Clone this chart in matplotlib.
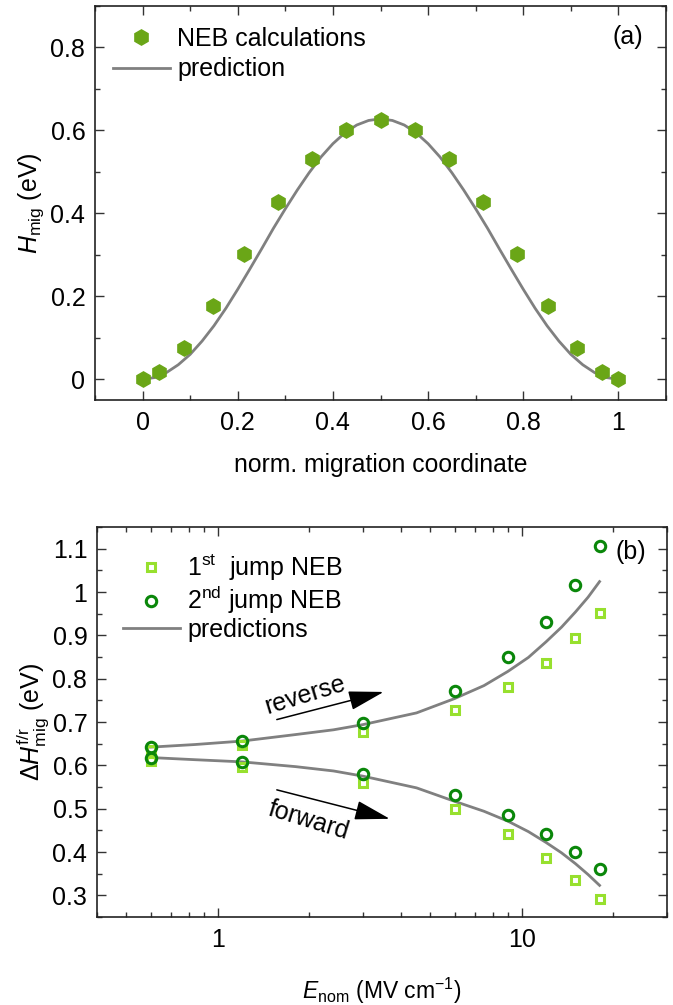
import matplotlib
matplotlib.use("Agg")
import matplotlib.pyplot as plt
from matplotlib.ticker import MultipleLocator, FixedLocator, LogLocator, NullFormatter
from matplotlib.patches import FancyArrowPatch

plt.rcParams['font.family'] = ['Liberation Sans', 'DejaVu Sans']
plt.rcParams['mathtext.fontset'] = 'custom'
plt.rcParams['mathtext.rm'] = 'Liberation Sans'
plt.rcParams['mathtext.it'] = 'Liberation Sans:italic'
plt.rcParams['mathtext.bf'] = 'Liberation Sans:bold'

# ---------------- data (a) ----------------
coord_neb = [0, 0.035, 0.086, 0.147, 0.213, 0.284, 0.355, 0.427, 0.5,
             0.573, 0.645, 0.716, 0.787, 0.853, 0.914, 0.965, 1.0]
h_neb = [0, 0.018, 0.075, 0.177, 0.301, 0.428, 0.532, 0.602, 0.626,
         0.602, 0.532, 0.428, 0.301, 0.177, 0.075, 0.018, 0]
coord_pred = [0, 0.025, 0.05, 0.075, 0.1, 0.125, 0.15, 0.175, 0.2, 0.225, 0.25,
              0.275, 0.3, 0.325, 0.35, 0.375, 0.4, 0.425, 0.45, 0.475, 0.5,
              0.525, 0.55, 0.575, 0.6, 0.625, 0.65, 0.675, 0.7, 0.725, 0.75,
              0.775, 0.8, 0.825, 0.85, 0.875, 0.9, 0.925, 0.95, 0.975, 1.0]
h_pred = [0, 0.004, 0.016, 0.035, 0.060, 0.092, 0.129, 0.171, 0.217, 0.265, 0.314,
          0.364, 0.411, 0.456, 0.498, 0.536, 0.568, 0.594, 0.613, 0.624, 0.628,
          0.624, 0.613, 0.594, 0.568, 0.536, 0.498, 0.456, 0.411, 0.364, 0.314,
          0.265, 0.217, 0.171, 0.129, 0.092, 0.060, 0.035, 0.016, 0.004, 0]

# ---------------- data (b) ----------------
e_neb = [0.6, 1.2, 3, 6, 9, 12, 15, 18]
jump1_rev = [0.635, 0.646, 0.676, 0.727, 0.780, 0.836, 0.893, 0.951]
jump1_fwd = [0.610, 0.597, 0.560, 0.499, 0.441, 0.386, 0.336, 0.291]
jump2_rev = [0.642, 0.656, 0.697, 0.771, 0.849, 0.931, 1.016, 1.107]
jump2_fwd = [0.618, 0.608, 0.580, 0.531, 0.485, 0.441, 0.399, 0.360]
e_pred = [0.6, 0.84, 1.2, 1.8, 2.4, 3, 4.5, 6, 7.5, 9, 10.5, 12, 13.5, 15, 16.5, 18]
pred_rev = [0.642, 0.648, 0.656, 0.671, 0.682, 0.694, 0.721, 0.754, 0.784, 0.817,
            0.849, 0.885, 0.919, 0.954, 0.988, 1.024]
pred_fwd = [0.618, 0.613, 0.608, 0.597, 0.587, 0.575, 0.548, 0.517, 0.494, 0.471,
            0.447, 0.422, 0.398, 0.373, 0.348, 0.323]

xticks_a = [0, 0.2, 0.4, 0.6, 0.8, 1]
xticklabels_a = ['0', '0.2', '0.4', '0.6', '0.8', '1']
yticks_a = [0, 0.2, 0.4, 0.6, 0.8]
yticklabels_a = ['0', '0.2', '0.4', '0.6', '0.8']
yticks_b = [0.3, 0.4, 0.5, 0.6, 0.7, 0.8, 0.9, 1.0, 1.1]
yticklabels_b = ['0.3', '0.4', '0.5', '0.6', '0.7', '0.8', '0.9', '1', '1.1']
xticks_b = [1, 10]
xticklabels_b = ['1', '10']

HEX = '#6aa617'
LIGHT = '#97e02e'
DARK = '#0a870a'
GRAY = '#808080'
FS = 18

fig = plt.figure(figsize=(6.73, 10.05), dpi=100)
W, H = 673, 1005
ax1 = fig.add_axes([95 / W, 1 - 400 / H, (666 - 95) / W, (400 - 6) / H])
ax2 = fig.add_axes([97 / W, 1 - 917 / H, (667 - 97) / W, (917 - 527) / H])

for ax in (ax1, ax2):
    for s in ax.spines.values():
        s.set_linewidth(1.2)
        s.set_color('#222222')
    ax.tick_params(which='both', direction='in', top=True, right=True,
                   labelsize=FS, width=1.0, color='#333333')
    ax.tick_params(which='major', length=6.5)
    ax.tick_params(which='minor', length=3.5)
    ax.tick_params(axis='x', pad=8)
    ax.tick_params(axis='y', pad=7)

# ---- panel (a)
ax1.plot(coord_pred, h_pred, color=GRAY, lw=2.0, zorder=2, label='prediction')
ax1.plot(coord_neb, h_neb, ls='none', marker='h', ms=11, color=HEX, mec=HEX,
         zorder=3, label='NEB calculations')
ax1.set_xlim(-0.1, 1.1)
ax1.set_ylim(-0.05, 0.9)
ax1.xaxis.set_major_locator(FixedLocator(xticks_a))
ax1.set_xticklabels(xticklabels_a)
ax1.yaxis.set_major_locator(FixedLocator(yticks_a))
ax1.set_yticklabels(yticklabels_a)
ax1.xaxis.set_minor_locator(MultipleLocator(0.1))
ax1.yaxis.set_minor_locator(MultipleLocator(0.1))
ax1.set_xlabel('norm. migration coordinate', fontsize=17.8, labelpad=13)
ax1.set_ylabel(r'$H_{\rm mig}$ (eV)', fontsize=FS, labelpad=3)
h, l = ax1.get_legend_handles_labels()
ax1.legend([h[1], h[0]], [l[1], l[0]], loc='upper left',
           bbox_to_anchor=(0.0315, 0.947), frameon=False, fontsize=FS,
           handlelength=2.28, handletextpad=0.28, labelspacing=0.26,
           borderaxespad=0, borderpad=0)
ax1.text(0.96, 0.921, '(a)', transform=ax1.transAxes, fontsize=FS,
         ha='right', va='center')

# ---- panel (b)
ax2.plot(e_pred, pred_rev, color=GRAY, lw=2.0, zorder=2, label='predictions')
ax2.plot(e_pred, pred_fwd, color=GRAY, lw=2.0, zorder=2)
ax2.plot(e_neb, jump1_rev, ls='none', marker='s', ms=6, mfc='none', mec=LIGHT,
         mew=2.2, zorder=3, label=r'1$^{\rm st}$  jump NEB')
ax2.plot(e_neb, jump1_fwd, ls='none', marker='s', ms=6, mfc='none', mec=LIGHT,
         mew=2.2, zorder=3)
ax2.plot(e_neb, jump2_rev, ls='none', marker='o', ms=7.5, mfc='none', mec=DARK,
         mew=2.2, zorder=4, label=r'2$^{\rm nd}$ jump NEB')
ax2.plot(e_neb, jump2_fwd, ls='none', marker='o', ms=7.5, mfc='none', mec=DARK,
         mew=2.2, zorder=4)
ax2.set_xscale('log')
ax2.set_xlim(0.4, 30)
ax2.set_ylim(0.25, 1.15)
ax2.xaxis.set_major_locator(FixedLocator(xticks_b))
ax2.set_xticklabels(xticklabels_b)
ax2.xaxis.set_minor_locator(LogLocator(base=10, subs=range(2, 10)))
ax2.xaxis.set_minor_formatter(NullFormatter())
ax2.yaxis.set_major_locator(FixedLocator(yticks_b))
ax2.set_yticklabels(yticklabels_b)
ax2.yaxis.set_minor_locator(MultipleLocator(0.05))
ax2.set_xlabel(r'$E_{\rm nom}$ (MV cm$^{-1}$)', fontsize=16.5, labelpad=17)
ax2.set_ylabel(r'$\Delta H^{\rm f/r}_{\rm mig}$ (eV)', fontsize=FS, labelpad=1)
h, l = ax2.get_legend_handles_labels()
ax2.legend([h[1], h[2], h[0]], [l[1], l[2], l[0]], loc='upper left',
           bbox_to_anchor=(0.0456, 0.935), frameon=False, fontsize=FS,
           handlelength=2.28, handletextpad=0.28, labelspacing=0.05,
           borderaxespad=0, borderpad=0)
ax2.text(0.964, 0.937, '(b)', transform=ax2.transAxes, fontsize=FS,
         ha='right', va='center')

# arrows
ax2.add_patch(FancyArrowPatch((1.53, 0.704), (3.58, 0.771),
                              arrowstyle='-|>,head_length=22,head_width=6',
                              mutation_scale=1, color='black', lw=1.1))
ax2.add_patch(FancyArrowPatch((1.53, 0.545), (3.75, 0.475),
                              arrowstyle='-|>,head_length=22,head_width=6',
                              mutation_scale=1, color='black', lw=1.1))
ax2.text(1.93, 0.762, 'reverse', fontsize=FS, rotation=17,
         ha='center', va='center', rotation_mode='anchor')
ax2.text(1.99, 0.472, 'forward', fontsize=FS, rotation=-17,
         ha='center', va='center', rotation_mode='anchor')

fig.savefig('out.png', dpi=100)
